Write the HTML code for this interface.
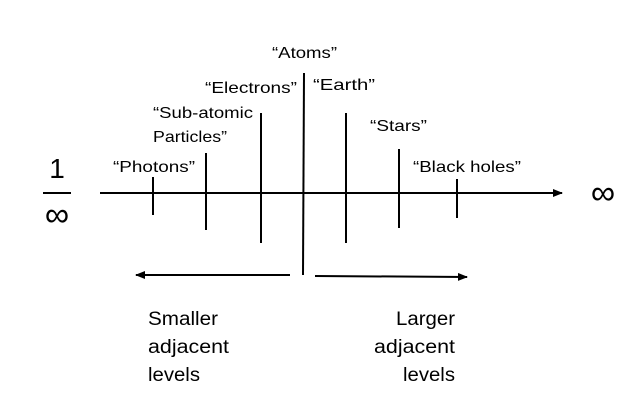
<!DOCTYPE html>
<html><head><meta charset="utf-8"><style>
html,body{margin:0;padding:0;background:#fff;}
svg{display:block;}
text{font-family:"Liberation Sans",sans-serif;fill:#000;}
</style></head><body>
<svg width="640" height="415" viewBox="0 0 640 415" xmlns="http://www.w3.org/2000/svg">
<defs>
<marker id="ah" markerWidth="10" markerHeight="8" refX="9" refY="4" orient="auto" markerUnits="userSpaceOnUse">
<path d="M0,0 L10,4 L0,8 z" fill="#000"/></marker>
</defs>
<g stroke="#000" stroke-width="2" fill="none">
<line x1="100" y1="193" x2="562" y2="193" marker-end="url(#ah)"/>
<line x1="153" y1="177" x2="153" y2="215"/>
<line x1="206" y1="153" x2="206" y2="230"/>
<line x1="261" y1="113" x2="261" y2="243"/>
<line x1="304" y1="73" x2="303" y2="275"/>
<line x1="346" y1="113" x2="346" y2="243"/>
<line x1="399" y1="149" x2="399" y2="228"/>
<line x1="457" y1="179" x2="457" y2="218"/>
<line x1="290" y1="275" x2="136" y2="275" marker-end="url(#ah)"/>
<line x1="315" y1="276" x2="467" y2="277" marker-end="url(#ah)"/>
<line x1="43" y1="193" x2="71" y2="193"/>
</g>
<g font-size="16" lengthAdjust="spacingAndGlyphs">
<text x="113" y="172" textLength="82" lengthAdjust="spacingAndGlyphs">“Photons”</text>
<text x="153" y="118" textLength="100" lengthAdjust="spacingAndGlyphs">“Sub-atomic</text>
<text x="153" y="142" textLength="74" lengthAdjust="spacingAndGlyphs">Particles”</text>
<text x="205" y="93" textLength="92" lengthAdjust="spacingAndGlyphs">“Electrons”</text>
<text x="272" y="58" textLength="65" lengthAdjust="spacingAndGlyphs">“Atoms”</text>
<text x="313" y="90" textLength="62" lengthAdjust="spacingAndGlyphs">“Earth”</text>
<text x="370" y="131" textLength="57" lengthAdjust="spacingAndGlyphs">“Stars”</text>
<text x="413" y="172" textLength="108" lengthAdjust="spacingAndGlyphs">“Black holes”</text>
</g>
<text x="57" y="178" font-size="28" text-anchor="middle" font-family="Liberation Serif,serif">1</text>
<text x="57" y="226" font-size="34" text-anchor="middle" font-family="DejaVu Sans,sans-serif">∞</text>
<text x="603" y="204" font-size="34" text-anchor="middle" font-family="DejaVu Sans,sans-serif">∞</text>
<g font-size="19">
<text x="148" y="325" textLength="70" lengthAdjust="spacingAndGlyphs">Smaller</text>
<text x="148" y="353" textLength="81" lengthAdjust="spacingAndGlyphs">adjacent</text>
<text x="148" y="381" textLength="52" lengthAdjust="spacingAndGlyphs">levels</text>
<text x="396" y="325" textLength="59" lengthAdjust="spacingAndGlyphs">Larger</text>
<text x="374" y="353" textLength="81" lengthAdjust="spacingAndGlyphs">adjacent</text>
<text x="403" y="381" textLength="52" lengthAdjust="spacingAndGlyphs">levels</text>
</g>
</svg>
</body></html>
